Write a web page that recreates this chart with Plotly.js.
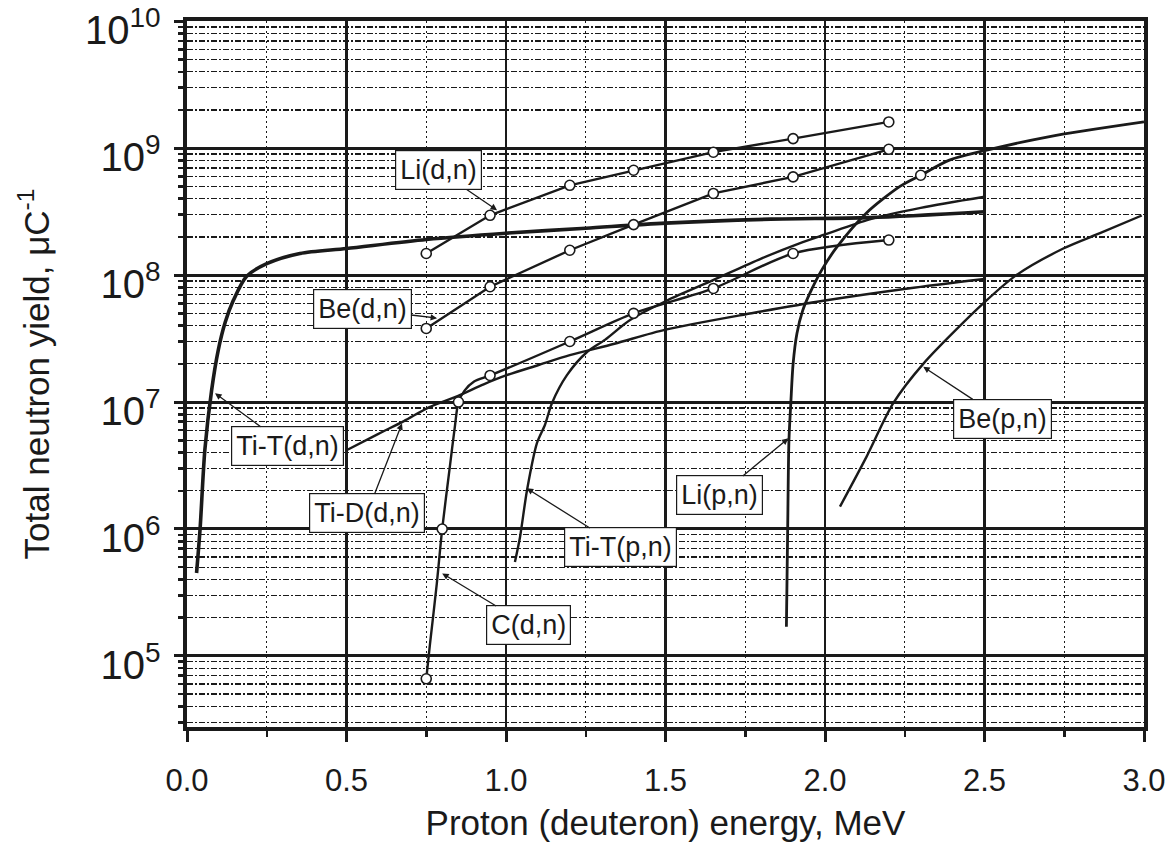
<!DOCTYPE html>
<html><head><meta charset="utf-8">
<script src="https://cdn.plot.ly/plotly-3.0.1.min.js"></script>
<style>html,body{margin:0;padding:0;background:#fff}</style>
</head><body>
<div id="chart" style="width:1176px;height:844px"></div>
<script>
// ---- data (energy in MeV, yield in n/µC) ----
const tiTdnE = [0.03, 0.041, 0.056, 0.077, 0.098, 0.12, 0.145, 0.187, 0.25, 0.354, 0.5, 0.75, 1.0, 1.25, 1.5, 1.83, 2.14, 2.5];
const tiTdnY = [4.5e5, 1.0e6, 4.2e6, 1.23e7, 2.57e7, 4.27e7, 6.3e7, 9.8e7, 1.23e8, 1.48e8, 1.62e8, 1.91e8, 2.14e8, 2.34e8, 2.57e8, 2.76e8, 2.84e8, 3.16e8];

const tiDdnE = [0.5, 0.6, 0.68, 0.76, 0.85, 0.93, 1.0, 1.1, 1.2, 1.34, 1.5, 1.77, 2.0, 2.26, 2.5];
const tiDdnY = [4.17e6, 5.62e6, 7.08e6, 9.12e6, 1.12e7, 1.38e7, 1.62e7, 1.95e7, 2.34e7, 2.88e7, 3.72e7, 5.01e7, 6.31e7, 7.85e7, 9.33e7];

const cDnLineE = [0.75, 0.762, 0.783, 0.80, 0.824, 0.84, 0.851, 0.87, 0.90, 0.95, 1.2, 1.4, 1.65, 1.9, 2.2];
const cDnLineY = [6.6e4, 1.26e5, 3.7e5, 1.0e6, 3.1e6, 6.5e6, 1.0e7, 1.23e7, 1.45e7, 1.62e7, 3.0e7, 5.0e7, 7.85e7, 1.48e8, 1.89e8];
const cDnPtsE = [0.75, 0.80, 0.851, 0.95, 1.2, 1.4, 1.65, 1.9, 2.2];
const cDnPtsY = [6.6e4, 1.0e6, 1.0e7, 1.62e7, 3.0e7, 5.0e7, 7.85e7, 1.48e8, 1.89e8];

const liDnE = [0.75, 0.95, 1.2, 1.4, 1.65, 1.9, 2.2];
const liDnY = [1.48e8, 2.96e8, 5.1e8, 6.7e8, 9.3e8, 1.19e9, 1.61e9];

const beDnE = [0.75, 0.95, 1.2, 1.4, 1.65, 1.9, 2.2];
const beDnY = [3.8e7, 8.1e7, 1.57e8, 2.5e8, 4.4e8, 5.94e8, 9.8e8];

const tiTpnE = [1.028, 1.044, 1.066, 1.097, 1.122, 1.144, 1.191, 1.254, 1.31, 1.389, 1.505, 1.649, 1.8, 1.92, 2.0, 2.14, 2.3, 2.5];
const tiTpnY = [5.5e5, 8.65e5, 2.03e6, 4.75e6, 6.6e6, 9.8e6, 1.63e7, 2.48e7, 3.09e7, 4.43e7, 6.31e7, 9.12e7, 1.35e8, 1.78e8, 2.09e8, 2.75e8, 3.39e8, 4.14e8];

const liPnE = [1.879, 1.883, 1.887, 1.893, 1.90, 1.912, 1.93, 1.953, 1.99, 2.037, 2.13, 2.235, 2.30, 2.39, 2.5, 2.7, 3.0];
const liPnY = [1.7e5, 1.0e6, 5.0e6, 1.0e7, 2.0e7, 3.47e7, 5.25e7, 7.24e7, 1.1e8, 1.66e8, 3.09e8, 5.0e8, 6.12e8, 8.05e8, 9.55e8, 1.23e9, 1.61e9];
const liPnPtE = [2.30];
const liPnPtY = [6.12e8];

const bePnE = [2.047, 2.13, 2.214, 2.308, 2.496, 2.60, 2.747, 2.862, 2.993];
const bePnY = [1.5e6, 3.7e6, 9.8e6, 2.0e7, 5.98e7, 1.0e8, 1.62e8, 2.14e8, 2.95e8];

// curve labels: text, arrow tip (energy, log10 yield), label offset (px)
const labelText = ['Li(d,n)', 'Be(d,n)', 'Ti-T(d,n)', 'Ti-D(d,n)', 'C(d,n)', 'Ti-T(p,n)', 'Li(p,n)', 'Be(p,n)'];
const labelTipE = [0.972, 0.784, 0.088, 0.674, 0.80, 1.065, 1.885, 2.308];
const labelTipLogY = [8.512, 7.661, 7.07, 6.832, 5.65, 6.32, 6.714, 7.278];
const labelDx = [-59, -75, 72, -35, 86, 94, -69, 79];
const labelDy = [-40, -9, 53, 90, 52, 59, 57, 52];

// ---- drawing ----
const ink = '#1a1a1a';
function lineTrace(x, y, w, smooth) {
  return {x: x, y: y, type: 'scatter', mode: 'lines',
    line: {color: ink, width: w, shape: smooth ? 'spline' : 'linear', smoothing: 0.8}, hoverinfo: 'skip'};
}
function markerTrace(x, y) {
  return {x: x, y: y, type: 'scatter', mode: 'markers',
    marker: {symbol: 'circle', size: 10, color: '#ffffff', line: {color: ink, width: 1.6}}, hoverinfo: 'skip'};
}
const traces = [
  lineTrace(tiDdnE, tiDdnY, 2.4, true),
  lineTrace(cDnLineE, cDnLineY, 2.4, true),
  lineTrace(liDnE, liDnY, 2.4, false),
  lineTrace(beDnE, beDnY, 2.4, false),
  lineTrace(tiTpnE, tiTpnY, 2.4, true),
  lineTrace(liPnE, liPnY, 2.8, true),
  lineTrace(bePnE, bePnY, 2.4, true),
  lineTrace(tiTdnE, tiTdnY, 3.6, true),
  markerTrace(cDnPtsE, cDnPtsY),
  markerTrace(liDnE, liDnY),
  markerTrace(beDnE, beDnY),
  markerTrace(liPnPtE, liPnPtY)
];

const annotations = labelText.map((t, i) => ({
  x: labelTipE[i], y: labelTipLogY[i], xref: 'x', yref: 'y',
  text: t, showarrow: true, ax: labelDx[i], ay: labelDy[i],
  arrowhead: 2, arrowsize: 1, arrowwidth: 1.3, arrowcolor: ink,
  bgcolor: '#ffffff', bordercolor: ink, borderwidth: 1.2, borderpad: 4,
  font: {size: 27, color: ink}
}));

const layout = {
  width: 1176, height: 844,
  margin: {l: 187, r: 32, t: 21, b: 117},
  paper_bgcolor: '#ffffff', plot_bgcolor: '#ffffff',
  showlegend: false,
  font: {family: '"Liberation Sans", Arial, Helvetica, sans-serif', color: ink},
  xaxis: {
    range: [0, 3], tick0: 0, dtick: 0.5, tickformat: '.1f',
    showgrid: true, gridcolor: ink, gridwidth: 2.5, zeroline: false,
    showline: true, linecolor: ink, linewidth: 4, mirror: true,
    ticks: 'outside', ticklen: 11, tickwidth: 3, tickcolor: ink,
    tickfont: {size: 31, color: ink}, ticklabelstandoff: 12,
    minor: {dtick: 0.25, showgrid: true, gridcolor: ink, gridwidth: 1.2, griddash: '2px,3px',
            ticks: 'outside', ticklen: 6, tickwidth: 2.5, tickcolor: ink},
    title: {text: 'Proton (deuteron) energy, MeV', font: {size: 35, color: ink}, standoff: 14}
  },
  yaxis: {
    type: 'log', range: [4.44, 10.002], tick0: 0, dtick: 1,
    exponentformat: 'power', showexponent: 'all', ticklabeloverflow: 'allow',
    ticklabelshift: 9,
    showgrid: true, gridcolor: ink, gridwidth: 3, zeroline: false,
    showline: true, linecolor: ink, linewidth: 4, mirror: true,
    ticks: 'outside', ticklen: 9, tickwidth: 3, tickcolor: ink,
    tickfont: {size: 32, color: ink}, ticklabelstandoff: 7,
    minor: {dtick: 'D1', showgrid: true, gridcolor: ink, gridwidth: 1.3, griddash: '6px,2px,2px,2px',
            ticks: 'outside', ticklen: 5, tickwidth: 2.5, tickcolor: ink},
    title: {text: 'Total neutron yield, \u03bcC<sup>-1</sup>', font: {size: 35, color: ink}, standoff: 26}
  },
  annotations: annotations
};

Plotly.newPlot('chart', traces, layout, {displayModeBar: false, staticPlot: true});
</script>
</body></html>
